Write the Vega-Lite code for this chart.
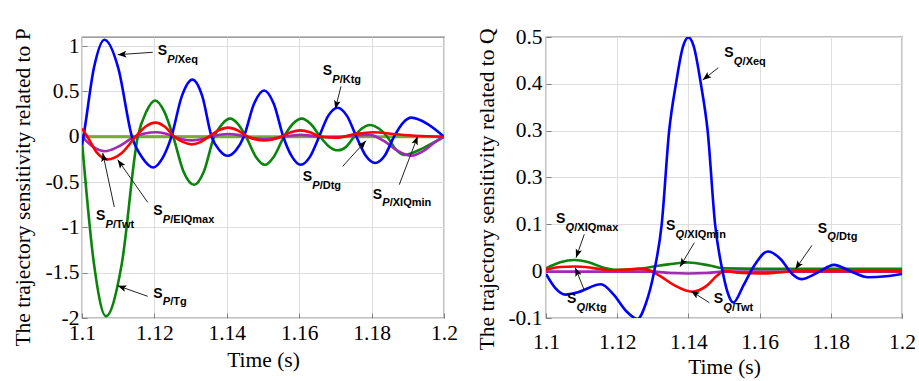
{
"$schema": "https://vega.github.io/schema/vega-lite/v6.json",
"background": "white",
"padding": {"left": 11, "top": 25, "right": 4, "bottom": 4},
"bounds": "flush",
"spacing": 102,
"config": {
  "view": {"stroke": "#808080", "strokeWidth": 1.3},
  "axis": {"domain": false, "grid": true, "gridColor": "#dedede", "gridWidth": 1, "ticks": true, "tickSize": -5, "tickColor": "#808080", "tickWidth": 1, "labelFlush": false,
    "labelFont": "Liberation Serif", "labelFontSize": 21.5, "labelColor": "black",
    "titleFont": "Liberation Serif", "titleFontSize": 21.5, "titleFontWeight": "normal", "titleColor": "black"}
},
"datasets": {
  "pcurves": [
    {"s":"cyan","t":1.1,"v":0.006},{"s":"cyan","t":1.13,"v":0.004},{"s":"cyan","t":1.16,"v":0.002},{"s":"cyan","t":1.2,"v":0.001},
    {"s":"olive","t":1.1,"v":-0.004},{"s":"olive","t":1.15,"v":-0.004},{"s":"olive","t":1.2,"v":-0.003},
    {"s":"green","t":1.1,"v":-0.05},{"s":"green","t":1.1033,"v":-1.4},{"s":"green","t":1.1066,"v":-1.98},{"s":"green","t":1.111,"v":-1.4},{"s":"green","t":1.1154,"v":0},{"s":"green","t":1.1178,"v":0.28},{"s":"green","t":1.1202,"v":0.4},{"s":"green","t":1.1227,"v":0.28},{"s":"green","t":1.1252,"v":0},{"s":"green","t":1.128,"v":-0.38},{"s":"green","t":1.131,"v":-0.53},{"s":"green","t":1.1337,"v":-0.38},{"s":"green","t":1.1365,"v":0},{"s":"green","t":1.1387,"v":0.14},{"s":"green","t":1.1409,"v":0.2},{"s":"green","t":1.1431,"v":0.14},{"s":"green","t":1.1453,"v":0},{"s":"green","t":1.148,"v":-0.22},{"s":"green","t":1.1505,"v":-0.31},{"s":"green","t":1.153,"v":-0.22},{"s":"green","t":1.1558,"v":0},{"s":"green","t":1.1582,"v":0.14},{"s":"green","t":1.1607,"v":0.2},{"s":"green","t":1.1632,"v":0.14},{"s":"green","t":1.1658,"v":0},{"s":"green","t":1.1683,"v":-0.11},{"s":"green","t":1.1707,"v":-0.15},{"s":"green","t":1.173,"v":-0.11},{"s":"green","t":1.1752,"v":0},{"s":"green","t":1.1773,"v":0.09},{"s":"green","t":1.1795,"v":0.13},{"s":"green","t":1.182,"v":0.09},{"s":"green","t":1.1843,"v":0},{"s":"green","t":1.1867,"v":-0.14},{"s":"green","t":1.189,"v":-0.2},{"s":"green","t":1.1945,"v":-0.12},{"s":"green","t":1.2,"v":0},
    {"s":"purple","t":1.1,"v":0},{"s":"purple","t":1.103,"v":-0.11},{"s":"purple","t":1.1063,"v":-0.16},{"s":"purple","t":1.11,"v":-0.11},{"s":"purple","t":1.1145,"v":0},{"s":"purple","t":1.1173,"v":0.035},{"s":"purple","t":1.1203,"v":0.05},{"s":"purple","t":1.123,"v":0.035},{"s":"purple","t":1.1255,"v":0},{"s":"purple","t":1.128,"v":-0.03},{"s":"purple","t":1.1305,"v":-0.04},{"s":"purple","t":1.133,"v":-0.028},{"s":"purple","t":1.1355,"v":0},{"s":"purple","t":1.138,"v":0.022},{"s":"purple","t":1.1405,"v":0.03},{"s":"purple","t":1.143,"v":0.02},{"s":"purple","t":1.1455,"v":0},{"s":"purple","t":1.148,"v":-0.018},{"s":"purple","t":1.1505,"v":-0.025},{"s":"purple","t":1.153,"v":-0.017},{"s":"purple","t":1.1555,"v":0},{"s":"purple","t":1.158,"v":0.014},{"s":"purple","t":1.1605,"v":0.02},{"s":"purple","t":1.163,"v":0.012},{"s":"purple","t":1.1655,"v":0},{"s":"purple","t":1.17,"v":-0.005},{"s":"purple","t":1.175,"v":0.015},{"s":"purple","t":1.1795,"v":0.02},{"s":"purple","t":1.1835,"v":-0.05},{"s":"purple","t":1.187,"v":-0.15},{"s":"purple","t":1.1909,"v":-0.21},{"s":"purple","t":1.195,"v":-0.14},{"s":"purple","t":1.1975,"v":-0.06},{"s":"purple","t":1.2,"v":0},
    {"s":"blue","t":1.1,"v":-0.09},{"s":"blue","t":1.1004,"v":0},{"s":"blue","t":1.1033,"v":0.76},{"s":"blue","t":1.1062,"v":1.07},{"s":"blue","t":1.11,"v":0.76},{"s":"blue","t":1.1138,"v":0},{"s":"blue","t":1.1168,"v":-0.24},{"s":"blue","t":1.1197,"v":-0.34},{"s":"blue","t":1.1222,"v":-0.24},{"s":"blue","t":1.1247,"v":0},{"s":"blue","t":1.1276,"v":0.45},{"s":"blue","t":1.1305,"v":0.63},{"s":"blue","t":1.1332,"v":0.45},{"s":"blue","t":1.1358,"v":0},{"s":"blue","t":1.138,"v":-0.15},{"s":"blue","t":1.1402,"v":-0.21},{"s":"blue","t":1.1425,"v":-0.15},{"s":"blue","t":1.1447,"v":0},{"s":"blue","t":1.1475,"v":0.36},{"s":"blue","t":1.1503,"v":0.51},{"s":"blue","t":1.153,"v":0.36},{"s":"blue","t":1.1556,"v":0},{"s":"blue","t":1.158,"v":-0.22},{"s":"blue","t":1.1604,"v":-0.31},{"s":"blue","t":1.163,"v":-0.22},{"s":"blue","t":1.1655,"v":0},{"s":"blue","t":1.168,"v":0.23},{"s":"blue","t":1.1706,"v":0.32},{"s":"blue","t":1.1732,"v":0.23},{"s":"blue","t":1.1758,"v":0},{"s":"blue","t":1.1784,"v":-0.21},{"s":"blue","t":1.181,"v":-0.29},{"s":"blue","t":1.1836,"v":-0.21},{"s":"blue","t":1.1862,"v":0},{"s":"blue","t":1.1886,"v":0.15},{"s":"blue","t":1.191,"v":0.21},{"s":"blue","t":1.1955,"v":0.14},{"s":"blue","t":1.2,"v":0},
    {"s":"red","t":1.1,"v":0.09},{"s":"red","t":1.1015,"v":0},{"s":"red","t":1.104,"v":-0.17},{"s":"red","t":1.107,"v":-0.25},{"s":"red","t":1.111,"v":-0.18},{"s":"red","t":1.1148,"v":0},{"s":"red","t":1.1175,"v":0.11},{"s":"red","t":1.1203,"v":0.155},{"s":"red","t":1.1229,"v":0.11},{"s":"red","t":1.1255,"v":0},{"s":"red","t":1.128,"v":-0.06},{"s":"red","t":1.1303,"v":-0.085},{"s":"red","t":1.1327,"v":-0.06},{"s":"red","t":1.135,"v":0},{"s":"red","t":1.1377,"v":0.07},{"s":"red","t":1.1403,"v":0.1},{"s":"red","t":1.143,"v":0.07},{"s":"red","t":1.1458,"v":0},{"s":"red","t":1.148,"v":-0.03},{"s":"red","t":1.1503,"v":-0.04},{"s":"red","t":1.1527,"v":-0.03},{"s":"red","t":1.155,"v":0},{"s":"red","t":1.1577,"v":0.05},{"s":"red","t":1.1603,"v":0.07},{"s":"red","t":1.163,"v":0.05},{"s":"red","t":1.166,"v":0},{"s":"red","t":1.1703,"v":-0.01},{"s":"red","t":1.1755,"v":0.03},{"s":"red","t":1.1805,"v":0.05},{"s":"red","t":1.186,"v":0.03},{"s":"red","t":1.192,"v":0.01},{"s":"red","t":1.2,"v":0}
  ],
  "qcurves": [
    {"s":"purple","t":1.1,"v":-0.001},{"s":"purple","t":1.13,"v":-0.001},{"s":"purple","t":1.135,"v":-0.004},{"s":"purple","t":1.14,"v":-0.005},{"s":"purple","t":1.145,"v":-0.004},{"s":"purple","t":1.15,"v":-0.001},{"s":"purple","t":1.2,"v":-0.001},
    {"s":"green","t":1.1,"v":0.006},{"s":"green","t":1.104,"v":0.019},{"s":"green","t":1.108,"v":0.024},{"s":"green","t":1.112,"v":0.019},{"s":"green","t":1.116,"v":0.008},{"s":"green","t":1.12,"v":0.003},{"s":"green","t":1.126,"v":0.005},{"s":"green","t":1.132,"v":0.012},{"s":"green","t":1.14,"v":0.0185},{"s":"green","t":1.146,"v":0.012},{"s":"green","t":1.15,"v":0.006},{"s":"green","t":1.16,"v":0.005},{"s":"green","t":1.2,"v":0.005},
    {"s":"red","t":1.1,"v":0.003},{"s":"red","t":1.104,"v":0.009},{"s":"red","t":1.108,"v":0.01},{"s":"red","t":1.113,"v":0.007},{"s":"red","t":1.118,"v":0.002},{"s":"red","t":1.122,"v":0.003},{"s":"red","t":1.126,"v":0.005},{"s":"red","t":1.129,"v":0.002},{"s":"red","t":1.132,"v":-0.01},{"s":"red","t":1.136,"v":-0.03},{"s":"red","t":1.141,"v":-0.044},{"s":"red","t":1.145,"v":-0.032},{"s":"red","t":1.148,"v":-0.01},{"s":"red","t":1.15,"v":0},{"s":"red","t":1.155,"v":-0.004},{"s":"red","t":1.16,"v":-0.005},{"s":"red","t":1.165,"v":-0.003},{"s":"red","t":1.17,"v":0},{"s":"red","t":1.2,"v":0},
    {"s":"blue","t":1.1,"v":-0.006},{"s":"blue","t":1.1025,"v":-0.035},{"s":"blue","t":1.1055,"v":-0.05},{"s":"blue","t":1.109,"v":-0.045},{"s":"blue","t":1.1154,"v":-0.028},{"s":"blue","t":1.119,"v":-0.05},{"s":"blue","t":1.1225,"v":-0.085},{"s":"blue","t":1.1257,"v":-0.102},{"s":"blue","t":1.128,"v":-0.07},{"s":"blue","t":1.1304,"v":0},{"s":"blue","t":1.1325,"v":0.1},{"s":"blue","t":1.1346,"v":0.3},{"s":"blue","t":1.1365,"v":0.4},{"s":"blue","t":1.1385,"v":0.48},{"s":"blue","t":1.14,"v":0.499},{"s":"blue","t":1.1415,"v":0.48},{"s":"blue","t":1.1435,"v":0.4},{"s":"blue","t":1.1454,"v":0.3},{"s":"blue","t":1.1475,"v":0.1},{"s":"blue","t":1.1496,"v":0},{"s":"blue","t":1.151,"v":-0.045},{"s":"blue","t":1.1526,"v":-0.067},{"s":"blue","t":1.1555,"v":-0.03},{"s":"blue","t":1.1585,"v":0.012},{"s":"blue","t":1.1623,"v":0.042},{"s":"blue","t":1.166,"v":0.025},{"s":"blue","t":1.169,"v":-0.005},{"s":"blue","t":1.1717,"v":-0.017},{"s":"blue","t":1.1763,"v":-0.003},{"s":"blue","t":1.1809,"v":0.0135},{"s":"blue","t":1.1855,"v":0},{"s":"blue","t":1.1905,"v":-0.013},{"s":"blue","t":1.1955,"v":-0.011},{"s":"blue","t":1.2,"v":-0.006}
  ],
  "plabels": [
    {"sl":"P","sub":"/Xeq","lx":1.12091,"ly":0.942,"t":1.11953,"v":0.9312,"hx":1.10986,"hy":0.9047},
    {"sl":"P","sub":"/Ktg","lx":1.16649,"ly":0.7216,"t":1.17155,"v":0.5561,"hx":1.16997,"hy":0.3057},
    {"sl":"P","sub":"/Dtg","lx":1.16097,"ly":-0.4445,"t":1.17202,"v":-0.3264,"hx":1.17845,"hy":-0.044},
    {"sl":"P","sub":"/XIQmin","lx":1.1803,"ly":-0.6397,"t":1.18765,"v":-0.5294,"hx":1.19273,"hy":0.0045},
    {"sl":"P","sub":"/Twt","lx":1.10387,"ly":-0.878,"t":1.10892,"v":-0.7754,"hx":1.10572,"hy":-0.1797},
    {"sl":"P","sub":"/EIQmax","lx":1.1197,"ly":-0.823,"t":1.11815,"v":-0.7236,"hx":1.10986,"hy":-0.2536},
    {"sl":"P","sub":"/Tg","lx":1.1197,"ly":-1.732,"t":1.11815,"v":-1.7606,"hx":1.10986,"hy":-1.6437}
  ],
  "qlabels": [
    {"sl":"Q","sub":"/Xeq","lx":1.15008,"ly":0.4652,"t":1.1484,"v":0.4344,"hx":1.14402,"hy":0.4082},
    {"sl":"Q","sub":"/XIQmax","lx":1.10281,"ly":0.1108,"t":1.11076,"v":0.0787,"hx":1.10843,"hy":0.0288},
    {"sl":"Q","sub":"/XIQmin","lx":1.13371,"ly":0.0964,"t":1.14166,"v":0.0608,"hx":1.13764,"hy":0.0095},
    {"sl":"Q","sub":"/Dtg","lx":1.17632,"ly":0.0907,"t":1.17472,"v":0.0552,"hx":1.17003,"hy":0.004},
    {"sl":"Q","sub":"/Ktg","lx":1.1059,"ly":-0.06,"t":1.11076,"v":-0.0408,"hx":1.10823,"hy":0.0074},
    {"sl":"Q","sub":"/Twt","lx":1.14711,"ly":-0.06,"t":1.14587,"v":-0.0673,"hx":1.14073,"hy":-0.0423}
  ]
},
"hconcat": [
  {
    "width": 362, "height": 281,
    "encoding": {
      "x": {"field": "t", "type": "quantitative", "scale": {"domain": [1.1, 1.2], "nice": false, "zero": false},
            "axis": {"title": "Time (s)", "values": [1.1, 1.12, 1.14, 1.16, 1.18, 1.2], "labelExpr": "'' + round(datum.value*1000)/1000", "labelFlush": false, "labelFont": "Liberation Serif", "labelFontSize": 21.5, "titleFont": "Liberation Serif", "titleFontSize": 21.5, "labelPadding": 9, "titleY": 48, "titleBaseline": "alphabetic"}},
      "y": {"field": "v", "type": "quantitative", "scale": {"domain": [-2, 1.1], "nice": false, "zero": false},
            "axis": {"title": "The trajectory sensitivity related to P", "values": [-2, -1.5, -1, -0.5, 0, 0.5, 1], "labelExpr": "'' + round(datum.value*1000)/1000", "labelFlush": false, "labelFont": "Liberation Serif", "labelFontSize": 21.5, "titleFont": "Liberation Serif", "titleFontSize": 21.5, "labelPadding": 8, "titleX": -53, "titleY": 150, "titleBaseline": "alphabetic"}}
    },
    "layer": [
      {"data": {"name": "pcurves"},
       "mark": {"type": "line", "strokeWidth": 2.6, "interpolate": "monotone", "clip": true},
       "encoding": {
         "color": {"field": "s", "type": "nominal", "legend": null,
                   "scale": {"domain": ["cyan", "olive", "green", "purple", "blue", "red"], "range": ["#4dbeee", "#77ac30", "#0a840a", "#a02ab4", "#0000ff", "#ff0000"]}}
       }},
      {"data": {"name": "plabels"},
       "mark": {"type": "rule", "color": "#222222", "strokeWidth": 1},
       "encoding": {"x2": {"field": "hx"}, "y2": {"field": "hy"}}},
      {"data": {"name": "plabels"},
       "transform": [{"calculate": "atan2((datum.hx-datum.t)*3620, (datum.hy-datum.v)*90.65)*180/PI", "as": "ang"}, {"calculate": "datum.hx", "as": "t"}, {"calculate": "datum.hy", "as": "v"}],
       "mark": {"type": "point", "shape": "M0,0L-0.38,1L0,0.78L0.38,1Z", "filled": true, "color": "black", "opacity": 1, "size": 300},
       "encoding": {"angle": {"field": "ang", "type": "quantitative", "scale": null}}},
      {"data": {"name": "plabels"},
       "transform": [{"calculate": "datum.lx", "as": "t"}, {"calculate": "datum.ly", "as": "v"}],
       "mark": {"type": "text", "font": "Liberation Sans", "fontWeight": "bold", "fontSize": 14, "align": "left", "baseline": "middle", "color": "black"},
       "encoding": {"text": {"value": "S"}}},
      {"data": {"name": "plabels"},
       "transform": [{"calculate": "datum.lx", "as": "t"}, {"calculate": "datum.ly", "as": "v"}],
       "mark": {"type": "text", "font": "Liberation Sans", "fontWeight": "bold", "fontStyle": "italic", "fontSize": 11, "align": "left", "baseline": "middle", "dx": 9.5, "dy": 8.5, "color": "black"},
       "encoding": {"text": {"field": "sl"}}},
      {"data": {"name": "plabels"},
       "transform": [{"calculate": "datum.lx", "as": "t"}, {"calculate": "datum.ly", "as": "v"}],
       "mark": {"type": "text", "font": "Liberation Sans", "fontWeight": "bold", "fontSize": 11, "align": "left", "baseline": "middle", "dx": 17, "dy": 8.5, "color": "black"},
       "encoding": {"text": {"field": "sub"}}}
    ]
  },
  {
    "width": 356, "height": 281,
    "encoding": {
      "x": {"field": "t", "type": "quantitative", "scale": {"domain": [1.1, 1.2], "nice": false, "zero": false},
            "axis": {"title": "Time (s)", "values": [1.1, 1.12, 1.14, 1.16, 1.18, 1.2], "labelExpr": "'' + round(datum.value*1000)/1000", "labelFlush": false, "labelFont": "Liberation Serif", "labelFontSize": 21.5, "titleFont": "Liberation Serif", "titleFontSize": 21.5, "labelPadding": 18, "titleY": 55, "titleBaseline": "alphabetic"}},
      "y": {"field": "v", "type": "quantitative", "scale": {"domain": [-0.1, 0.5], "nice": false, "zero": false},
            "axis": {"title": "The trajectory sensitivity related to Q", "values": [-0.1, 0, 0.1, 0.2, 0.3, 0.4, 0.5], "labelExpr": "format(datum.value, '.2f') == '0.20' ? '0.3' : '' + round(datum.value*1000)/1000", "labelFlush": false, "labelFont": "Liberation Serif", "labelFontSize": 21.5, "titleFont": "Liberation Serif", "titleFontSize": 21.5, "labelPadding": 9, "titleX": -53, "titleY": 152, "titleBaseline": "alphabetic"}}
    },
    "layer": [
      {"data": {"name": "qcurves"},
       "mark": {"type": "line", "strokeWidth": 2.6, "interpolate": "monotone", "clip": true},
       "encoding": {
         "color": {"field": "s", "type": "nominal", "legend": null,
                   "scale": {"domain": ["purple", "green", "red", "blue"], "range": ["#a02ab4", "#0a840a", "#ff0000", "#0000ff"]}}
       }},
      {"data": {"name": "qlabels"},
       "mark": {"type": "rule", "color": "#222222", "strokeWidth": 1},
       "encoding": {"x2": {"field": "hx"}, "y2": {"field": "hy"}}},
      {"data": {"name": "qlabels"},
       "transform": [{"calculate": "atan2((datum.hx-datum.t)*3560, (datum.hy-datum.v)*468.3)*180/PI", "as": "ang"}, {"calculate": "datum.hx", "as": "t"}, {"calculate": "datum.hy", "as": "v"}],
       "mark": {"type": "point", "shape": "M0,0L-0.38,1L0,0.78L0.38,1Z", "filled": true, "color": "black", "opacity": 1, "size": 300},
       "encoding": {"angle": {"field": "ang", "type": "quantitative", "scale": null}}},
      {"data": {"name": "qlabels"},
       "transform": [{"calculate": "datum.lx", "as": "t"}, {"calculate": "datum.ly", "as": "v"}],
       "mark": {"type": "text", "font": "Liberation Sans", "fontWeight": "bold", "fontSize": 14, "align": "left", "baseline": "middle", "color": "black"},
       "encoding": {"text": {"value": "S"}}},
      {"data": {"name": "qlabels"},
       "transform": [{"calculate": "datum.lx", "as": "t"}, {"calculate": "datum.ly", "as": "v"}],
       "mark": {"type": "text", "font": "Liberation Sans", "fontWeight": "bold", "fontStyle": "italic", "fontSize": 11, "align": "left", "baseline": "middle", "dx": 9.5, "dy": 8.5, "color": "black"},
       "encoding": {"text": {"field": "sl"}}},
      {"data": {"name": "qlabels"},
       "transform": [{"calculate": "datum.lx", "as": "t"}, {"calculate": "datum.ly", "as": "v"}],
       "mark": {"type": "text", "font": "Liberation Sans", "fontWeight": "bold", "fontSize": 11, "align": "left", "baseline": "middle", "dx": 18.3, "dy": 8.5, "color": "black"},
       "encoding": {"text": {"field": "sub"}}}
    ]
  }
]
}
